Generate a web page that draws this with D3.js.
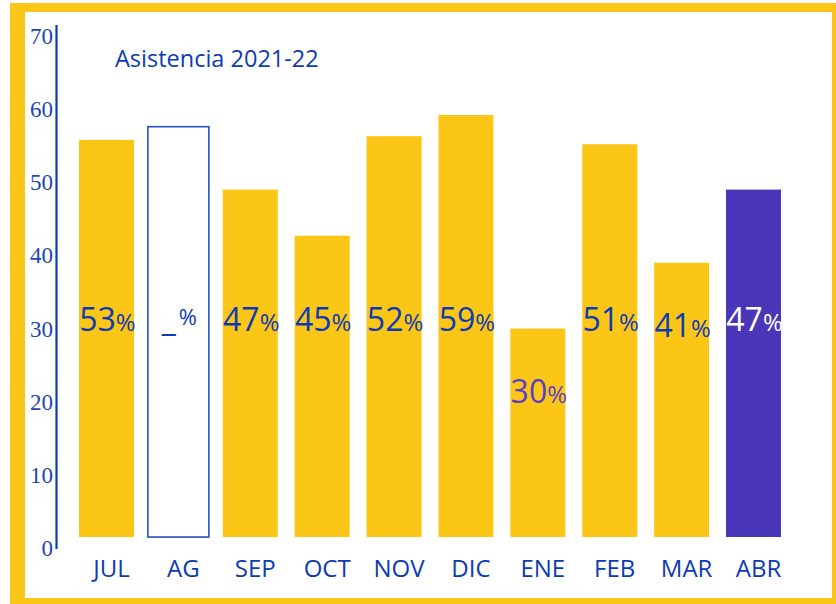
<!DOCTYPE html>
<html lang="es">
<head>
    <meta charset="utf-8">
    <title>Asistencia 2021-22</title>
    <style>
        body { margin: 0; background: #fff; }
        svg { display: block; }
    </style>
</head>
<body>
    <svg width="836" height="604"></svg>
    <script src="https://cdn.jsdelivr.net/npm/d3@7"></script>
    <script>
        // months of the school year
        const months = ["JUL", "AG", "SEP", "OCT", "NOV", "DIC", "ENE", "FEB", "MAR", "ABR"];
        // bar heights as drawn (axis units)
        const barValues = [55.8, 57.6, 49.0, 42.7, 56.3, 59.2, 30.0, 55.2, 39.0, 49.0];
        // printed attendance figures
        const pctLabels = ["53", "_", "47", "45", "52", "59", "30", "51", "41", "47"];
        const yTicks = [0, 10, 20, 30, 40, 50, 60, 70];
        const barBase = 1.5;
        const pending = "AG";
        const current = "ABR";

        const yellow = "#fbc616";
        const blue = "#0c3bb3";
        const purple = "#4a36b8";

        const svg = d3.select("svg");

        // frame
        svg.append("rect")
            .attr("x", 10).attr("y", 3)
            .attr("width", 826).attr("height", 601)
            .attr("fill", yellow);
        svg.append("rect")
            .attr("x", 25).attr("y", 12)
            .attr("width", 807).attr("height", 586)
            .attr("fill", "#fff");

        const x = d3.scaleBand()
            .domain(months)
            .range([79, 781])
            .paddingInner(0.235)
            .paddingOuter(0);

        const y = d3.scaleLinear()
            .domain([0, 70])
            .range([548, 36]);

        // y axis line + tick labels
        svg.append("line")
            .attr("x1", 56.5).attr("x2", 56.5)
            .attr("y1", 25).attr("y2", 549)
            .attr("stroke", blue)
            .attr("stroke-width", 2.2);

        svg.append("g")
            .selectAll("text")
            .data(yTicks)
            .join("text")
            .attr("x", 53)
            .attr("y", d => y(d) + 8)
            .attr("text-anchor", "end")
            .attr("font-family", "Liberation Serif, serif")
            .attr("font-size", 23)
            .attr("fill", "#1d46b5")
            .text(d => d);

        // title
        svg.append("text")
            .attr("x", 115)
            .attr("y", 67)
            .attr("font-family", "Open Sans, sans-serif")
            .attr("font-size", 23.5)
            .attr("fill", blue)
            .text("Asistencia 2021-22");

        const data = months.map((m, i) => ({ month: m, value: barValues[i], label: pctLabels[i] }));

        // bars
        svg.append("g")
            .selectAll("rect")
            .data(data)
            .join("rect")
            .attr("x", d => d.month === pending ? x(d.month) - 3 : x(d.month))
            .attr("width", d => d.month === pending ? x.bandwidth() + 6 : x.bandwidth())
            .attr("y", d => y(d.value))
            .attr("height", d => y(barBase) - y(d.value))
            .attr("fill", d => d.month === pending ? "#fff" : d.month === current ? purple : yellow)
            .attr("stroke", d => d.month === pending ? "#2650c0" : "none")
            .attr("stroke-width", 1.6);

        // percentage labels: at a common height, pushed down inside short bars
        const labelY = d => Math.max(y(29.7), y(d.value) + 74);
        const labels = svg.append("g")
            .selectAll("text")
            .data(data)
            .join("text")
            .attr("x", d => x(d.month) + x.bandwidth() / 2 + 1)
            .attr("y", labelY)
            .attr("text-anchor", "middle")
            .attr("font-family", "Open Sans, sans-serif")
            .attr("fill", d => d.month === current ? "#fff" : d.month === "ENE" ? "#5a3fc5" : blue);

        labels.append("tspan")
            .attr("font-size", 32)
            .text(d => d.label);
        labels.append("tspan")
            .attr("font-size", d => d.month === pending ? 22 : 24)
            .attr("dx", d => d.month === pending ? 3 : 0)
            .attr("dy", d => d.month === pending ? -6 : 0)
            .text("%");

        // month labels
        svg.append("g")
            .selectAll("text")
            .data(months)
            .join("text")
            .attr("x", d => x(d) + x.bandwidth() / 2 + 5)
            .attr("y", 577)
            .attr("text-anchor", "middle")
            .attr("font-family", "Open Sans, sans-serif")
            .attr("font-size", 24)
            .attr("fill", blue)
            .text(d => d);
    </script>
</body>
</html>
